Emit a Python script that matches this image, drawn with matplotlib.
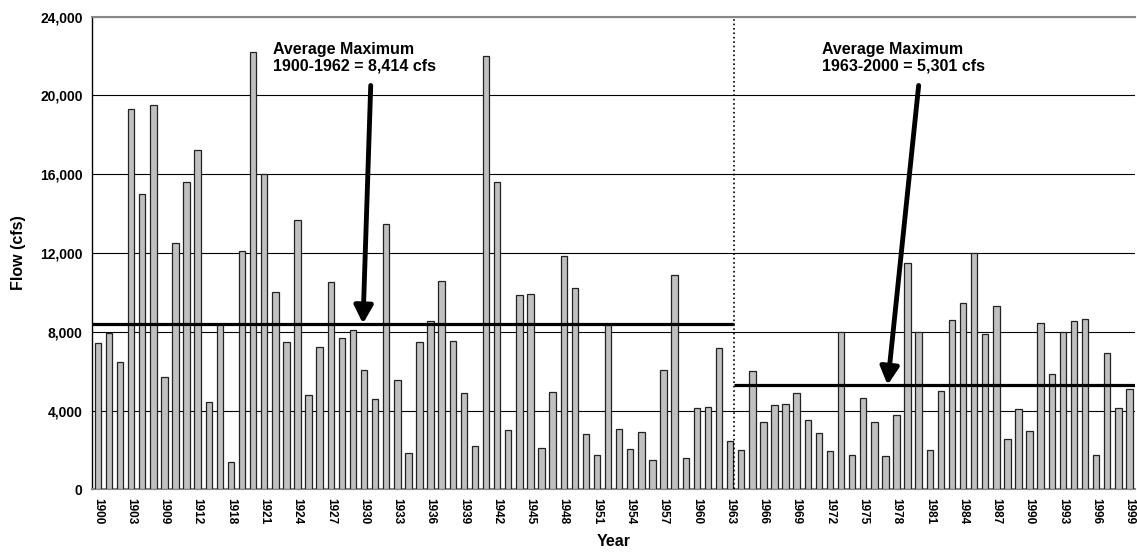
import matplotlib
matplotlib.use('Agg')
import matplotlib.pyplot as plt
from matplotlib.ticker import FuncFormatter

plt.rcParams['font.family'] = ['Liberation Sans', 'DejaVu Sans']
plt.rcParams['font.weight'] = 'bold'
plt.rcParams['axes.labelweight'] = 'bold'

# Annual peak flow record (years with no record are skipped)
years = [1900, 1901, 1902, 1903, 1904, 1908, 1909, 1910, 1911, 1912, 1913, 1917] + list(range(1918, 2000))
peak_flow = [
    7450, 7950, 6450, 19300, 15000, 19500, 5700, 12500, 15600, 17200, 4450, 8400,
    1400, 12100, 22200, 16000, 10000, 7500, 13650, 4780, 7230, 10500,
    7700, 8080, 6060, 4580, 13480, 5570, 1860, 7470, 8530, 10590,
    7540, 4890, 2220, 22000, 15590, 3030, 9850, 9900, 2090, 4940,
    11820, 10210, 2810, 1730, 8350, 3085, 2040, 2900, 1480, 6060,
    10880, 1600, 4150, 4200, 7180, 2440, 1980, 6000, 3410, 4290,
    4350, 4900, 3540, 2850, 1930, 7970, 1730, 4650, 3410, 1680,
    3790, 11510, 7970, 1980, 5015, 8590, 9450, 12000, 7870, 9290,
    2580, 4080, 2980, 8420, 5830, 7970, 8530, 8660, 1730, 6930,
    4150, 5090,
]

avg_early = 8414   # 1900-1962
avg_late = 5301    # 1963-2000
split_year = 1963

fig = plt.figure(figsize=(11.37, 5.57), dpi=100)
ax = fig.add_axes([0.0812, 0.1215, 0.9170, 0.8488])

x = list(range(len(years)))
ax.bar(x, peak_flow, width=0.58, color='#c0c0c0', edgecolor='#222222', linewidth=0.9, zorder=3)

ax.set_xlim(-0.5, len(years) - 0.5)
ax.set_ylim(0, 24000)
ax.set_yticks(range(0, 24001, 4000))
ax.yaxis.set_major_formatter(FuncFormatter(lambda v, p: f'{int(v):,}'))
ax.grid(axis='y', color='black', linewidth=0.8, zorder=1)
ax.tick_params(axis='y', length=0, pad=7, labelsize=10)

ax.set_xticks(x[::3])
ax.set_xticklabels([str(y) for y in years[::3]], rotation=-90, fontsize=8.5)
ax.tick_params(axis='x', length=0, pad=6)

ax.spines['right'].set_visible(False)
ax.spines['top'].set_color('#888888')
ax.spines['top'].set_linewidth(1.5)
ax.spines['bottom'].set_color('#888888')
ax.spines['bottom'].set_linewidth(1.5)
ax.spines['left'].set_color('black')
ax.spines['left'].set_linewidth(1.0)

ax.set_xlabel('Year', fontsize=11.5, labelpad=7)
ax.set_ylabel('Flow (cfs)', fontsize=11.5, labelpad=10)

# split between the two periods
split_x = years.index(split_year) + 0.33
ax.axvline(split_x, color='black', linestyle=':', linewidth=1.2, zorder=4)

# period averages
ax.plot([-0.5, split_x], [avg_early, avg_early], color='black', linewidth=2.3, zorder=5, solid_capstyle='butt')
ax.plot([split_x, len(years) - 0.5], [avg_late, avg_late], color='black', linewidth=2.3, zorder=5, solid_capstyle='butt')

arrow = dict(arrowstyle='-|>,head_length=0.75,head_width=0.4', color='black', lw=3.5,
             mutation_scale=14, shrinkA=0, shrinkB=0)
ax.annotate('', xy=(23.9, avg_early), xytext=(24.6, 20500), arrowprops=arrow, zorder=6)
ax.annotate('', xy=(71.2, avg_late), xytext=(74.0, 20500), arrowprops=arrow, zorder=6)

ax.text(15.8, 22700, f'Average Maximum\n1900-1962 = {avg_early:,} cfs', fontsize=11.5,
        va='top', ha='left', linespacing=1.15, zorder=6)
ax.text(65.3, 22700, f'Average Maximum\n1963-2000 = {avg_late:,} cfs', fontsize=11.5,
        va='top', ha='left', linespacing=1.15, zorder=6)

fig.savefig('out.png', dpi=100)
